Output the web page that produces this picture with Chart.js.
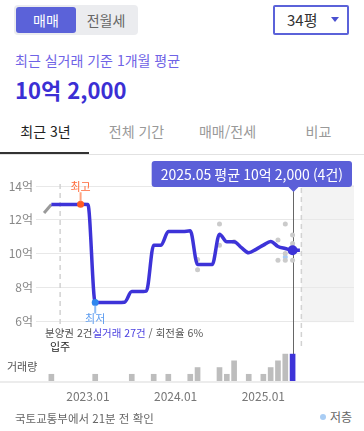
<!DOCTYPE html>
<html lang="ko">
<head>
<meta charset="utf-8">
<script src="https://cdn.jsdelivr.net/npm/chart.js@4.4.1/dist/chart.umd.min.js"></script>
<style>
  body { margin: 0; width: 364px; height: 431px; overflow: hidden; background: #fff; position: relative;
         font-family: "Noto Sans CJK KR", "Noto Sans", sans-serif; }
  .abs { position: absolute; white-space: nowrap; }
  #toggle { left: 14px; top: 5px; width: 124px; height: 30px; background: #ebecef; border-radius: 4px; }
  #toggle span { position: absolute; top: 2px; width: 60px; height: 26px; line-height: 26px; text-align: center; font-size: 14px; }
  #toggle .on { left: 2px; background: #5b62d9; color: #fff; border-radius: 3px; }
  #toggle .off { left: 62px; color: #666; }
  #size { left: 273px; top: 5px; width: 72px; height: 26px; border: 2px solid #5b62d9; border-radius: 2px; }
  #size .txt { position: absolute; left: 12px; top: 0; line-height: 26px; font-size: 15px; color: #333; }
  #size .arr { position: absolute; left: 56px; top: 10px; width: 0; height: 0;
               border-left: 4px solid transparent; border-right: 4px solid transparent; border-top: 5px solid #4a50d0; }
  #sub { left: 15px; top: 51px; font-size: 14px; line-height: 18px; color: #6f63e6; }
  #price { left: 15px; top: 76px; font-size: 22px; line-height: 26px; font-weight: bold; color: #3b2fd4; }
  #tabs { left: 0; top: 117px; width: 364px; height: 36px; display: flex; }
  #tabs div { flex: 1; text-align: center; line-height: 28px; font-size: 14px; color: #999; }
  #tabs div.on { color: #222; }
  #tabline { left: 0; top: 152px; width: 89px; height: 2px; background: #333; }
  #grayline { left: 0; top: 154px; width: 364px; height: 1px; background: #e2e2e2; }
  #chart { position: absolute; left: 0; top: 156px; }
  #stats { left: 45px; top: 325px; font-size: 10.5px; line-height: 16px; color: #555; }
  #stats b { font-weight: normal; color: #4a3fe0; }
  #movein { left: 48px; top: 338px; width: 24px; text-align: center; font-size: 11px; line-height: 16px; color: #222; }
  #vol { left: 7px; top: 358px; font-size: 11px; line-height: 16px; color: #555; }
  #src { left: 15px; top: 410px; font-size: 11.5px; line-height: 16px; color: #666; }
  #lgdot { left: 320px; top: 414px; width: 6px; height: 6px; border-radius: 3px; background: #a9cdf4; }
  #lgtxt { left: 330px; top: 409px; font-size: 12px; line-height: 16px; color: #666; }
</style>
</head>
<body>
<div id="toggle" class="abs"><span class="on">매매</span><span class="off">전월세</span></div>
<div id="size" class="abs"><span class="txt">34평</span><span class="arr"></span></div>
<div id="sub" class="abs">최근 실거래 기준 1개월 평균</div>
<div id="price" class="abs"></div>
<div id="tabs" class="abs"><div class="on">최근 3년</div><div>전체 기간</div><div>매매/전세</div><div>비교</div></div>
<div id="tabline" class="abs"></div>
<div id="grayline" class="abs"></div>
<canvas id="chart" width="364" height="249"></canvas>
<div id="stats" class="abs">분양권 2건<b>실거래 27건</b> / 회전율 6%</div>
<div id="movein" class="abs">입주</div>
<div id="vol" class="abs">거래량</div>
<div id="src" class="abs">국토교통부에서 21분 전 확인</div>
<div id="lgdot" class="abs"></div>
<div id="lgtxt" class="abs">저층</div>

<script>
// axis months: index 0 = 2022.06
var startYear = 2022, startMonth = 6;
var xTickLabels = ["2023.01", "2024.01", "2025.01"];
var yTicks = [6, 8, 10, 12, 14];

// monthly average price (억)
var avgMonths = ["2022.08", "2022.09", "2022.10", "2022.11", "2022.12", "2023.01", "2023.02", "2023.03",
  "2023.04", "2023.05", "2023.06", "2023.07", "2023.08", "2023.09", "2023.10", "2023.11", "2023.12",
  "2024.01", "2024.02", "2024.03", "2024.04", "2024.05", "2024.06", "2024.07", "2024.08", "2024.09",
  "2024.10", "2024.11", "2024.12", "2025.01", "2025.02", "2025.03", "2025.04", "2025.05", "2025.06"];
var avgValues = [12.9, 12.9, 12.9, 12.9, 12.92, 12.9, 7.1, 7.1,
  7.1, 7.1, 7.12, 7.75, 7.75, 7.78, 10.5, 10.5, 11.3,
  11.3, 11.3, 11.35, 9.35, 9.35, 9.35, 11.15, 10.7, 10.7,
  10.35, 10.05, 10.25, 10.5, 10.72, 10.42, 10.3, 10.2, 10.2];

// 분양권 (pre-sale) segment
var presaleMonths = ["2022.07", "2022.08"];
var presaleValues = [12.4, 12.9];

// individual deals
var dealMonths = ["2024.04", "2024.04", "2024.07", "2024.07", "2024.09", "2025.03", "2025.03",
  "2025.04", "2025.04", "2025.04", "2025.05", "2025.05", "2025.05"];
var dealValues = [9.65, 9.05, 11.75, 10.5, 10.7, 10.8, 9.6,
  11.75, 10.0, 9.6, 11.1, 10.6, 9.6];
var lowFloorMonths = ["2025.04"];
var lowFloorValues = [9.8];

// trade volume (건)
var volMonths = ["2022.08", "2023.02", "2023.07", "2023.10", "2023.12", "2024.03", "2024.04", "2024.07",
  "2024.08", "2024.09", "2024.11", "2025.01", "2025.02", "2025.03", "2025.04", "2025.05"];
var volCounts = [1, 1, 1, 1, 1, 1, 2, 2, 1, 3, 1, 1, 2, 3, 4, 4];

var curMonth = "2025.05";
var moveInMonth = "2022.09";
var todayMonth = "2025.06";

var FONT = '"Noto Sans CJK KR", "Noto Sans", sans-serif';
var BLUE = "#3d33d8";

function monthIndex(s) {
  var p = s.split(".");
  return (parseInt(p[0]) - startYear) * 12 + parseInt(p[1]) - startMonth;
}
function monthLabel(i) {
  var m = startMonth - 1 + i;
  var y = startYear + Math.floor(m / 12);
  var mm = (m % 12) + 1;
  return y + "." + (mm < 10 ? "0" + mm : mm);
}
function fmtPrice(v) {
  var eok = Math.floor(v);
  var man = Math.round((v - eok) * 10000);
  return man ? eok + "억 " + man.toLocaleString("en-US") : eok + "억";
}
function pts(months, values) {
  return months.map(function (m, i) { return { x: monthIndex(m), y: values[i] }; });
}

var curIdx = avgMonths.indexOf(curMonth);
var curValue = avgValues[curIdx];
var curCount = volCounts[volMonths.indexOf(curMonth)];
var hiIdx = avgValues.indexOf(Math.max.apply(null, avgValues));
var loIdx = avgValues.indexOf(Math.min.apply(null, avgValues));

document.getElementById("price").textContent = fmtPrice(curValue);

var overlay = {
  id: "overlay",
  beforeDraw: function (chart) {
    var c = chart.ctx, a = chart.chartArea, x = chart.scales.x, y = chart.scales.y;
    var tx = x.getPixelForValue(monthIndex(todayMonth) + 0.2);
    c.save();
    c.fillStyle = "#f3f3f3";
    c.fillRect(tx, y.getPixelForValue(14) - 1, a.right - tx, y.getPixelForValue(6) - y.getPixelForValue(14) + 2);
    c.restore();
  },
  beforeDatasetsDraw: function (chart) {
    var c = chart.ctx, a = chart.chartArea, x = chart.scales.x;
    c.save();
    // baseline under the volume bars
    c.fillStyle = "#ececec";
    c.fillRect(0, a.bottom, chart.width, 2);
    // dashed lines: move-in and today
    c.strokeStyle = "#d2d2d2";
    c.lineWidth = 1.5;
    c.setLineDash([5, 4]);
    var mx = x.getPixelForValue(monthIndex(moveInMonth) + 0.2);
    c.beginPath(); c.moveTo(mx, 28); c.lineTo(mx, 172); c.stroke();
    var tx = x.getPixelForValue(monthIndex(todayMonth) + 0.2);
    c.beginPath(); c.moveTo(tx, 32); c.lineTo(tx, 194); c.stroke();
    // cursor
    c.setLineDash([]);
    c.strokeStyle = "#666";
    c.lineWidth = 1;
    var cx = Math.round(x.getPixelForValue(monthIndex(curMonth))) + 0.5;
    c.beginPath(); c.moveTo(cx, 34); c.lineTo(cx, a.bottom); c.stroke();
    c.restore();
  },
  afterDatasetsDraw: function (chart) {
    var c = chart.ctx, x = chart.scales.x, y = chart.scales.y;
    c.save();
    c.font = "11px " + FONT;
    c.textAlign = "center";
    c.textBaseline = "middle";
    // 최고
    var hx = x.getPixelForValue(monthIndex(avgMonths[hiIdx])), hy = y.getPixelForValue(avgValues[hiIdx]);
    c.strokeStyle = "#ffa37f"; c.lineWidth = 2;
    c.beginPath(); c.moveTo(hx, hy - 3); c.lineTo(hx, hy - 12); c.stroke();
    c.fillStyle = "#ff6a3a";
    c.fillText("최고", hx, hy - 17);
    // 최저
    var lx = x.getPixelForValue(monthIndex(avgMonths[loIdx])), ly = y.getPixelForValue(avgValues[loIdx]);
    c.strokeStyle = "#8ebcf6";
    c.beginPath(); c.moveTo(lx, ly + 3); c.lineTo(lx, ly + 11); c.stroke();
    c.fillStyle = "#5c9cf0";
    c.fillText("최저", lx, ly + 16);
    c.restore();
  },
  afterDraw: function (chart) {
    var c = chart.ctx, x = chart.scales.x;
    var cx = Math.round(x.getPixelForValue(monthIndex(curMonth))) + 0.5;
    var text = curMonth + " 평균 " + fmtPrice(curValue) + " (" + curCount + "건)";
    c.save();
    c.font = "14px " + FONT;
    var w = c.measureText(text).width + 18, h = 26;
    var right = Math.min(cx + w / 2, 352);
    var left = right - w, top = 5;
    c.fillStyle = "#5b5fd8";
    c.beginPath();
    c.roundRect(left, top, w, h, 3);
    c.fill();
    c.beginPath();
    c.moveTo(cx - 5, top + h); c.lineTo(cx + 5, top + h); c.lineTo(cx, top + h + 5); c.closePath();
    c.fill();
    c.fillStyle = "#fff";
    c.textAlign = "center";
    c.textBaseline = "middle";
    c.fillText(text, left + w / 2, top + h / 2 + 1);
    c.restore();
  }
};

var ctx = document.getElementById("chart").getContext("2d");
var chart = new Chart(ctx, {
  data: {
    datasets: [
      {
        type: "line",
        data: pts(avgMonths, avgValues),
        borderColor: BLUE,
        borderWidth: 3.5,
        cubicInterpolationMode: "monotone",
        pointRadius: function (c) {
          if (c.dataIndex === curIdx) return 5;
          if (c.dataIndex === hiIdx || c.dataIndex === loIdx) return 3.5;
          return 0;
        },
        pointBackgroundColor: function (c) {
          if (c.dataIndex === hiIdx) return "#ff5a24";
          if (c.dataIndex === loIdx) return "#2f86ee";
          return BLUE;
        },
        pointBorderWidth: 0,
        clip: false,
        order: 1
      },
      {
        type: "line",
        data: pts(presaleMonths, presaleValues),
        borderColor: "#9a9a9a",
        borderWidth: 3,
        pointRadius: 0,
        order: 2
      },
      {
        type: "scatter",
        data: pts(dealMonths, dealValues),
        backgroundColor: "#cbcbcb",
        pointRadius: 2.5,
        pointBorderWidth: 0,
        order: 3
      },
      {
        type: "scatter",
        label: "저층",
        data: pts(lowFloorMonths, lowFloorValues),
        backgroundColor: "#a9cdf4",
        pointRadius: 2.5,
        pointBorderWidth: 0,
        order: 3
      },
      {
        type: "bar",
        yAxisID: "y2",
        data: pts(volMonths, volCounts),
        backgroundColor: volMonths.map(function (m) { return m === curMonth ? BLUE : "#bdbdbd"; }),
        barThickness: 5,
        order: 4
      }
    ]
  },
  options: {
    responsive: false,
    animation: false,
    layout: { padding: { top: 30, right: 10, left: 0, bottom: 0 } },
    plugins: { legend: { display: false }, tooltip: { enabled: false } },
    scales: {
      x: {
        type: "linear",
        min: -0.1,
        max: 43.4,
        offset: false,
        grid: { display: false, drawTicks: false, offset: false },
        border: { display: false },
        afterBuildTicks: function (s) {
          s.ticks = xTickLabels.map(function (l) { return { value: monthIndex(l) }; });
        },
        ticks: {
          callback: function (v) { return monthLabel(v); },
          color: "#777",
          font: { size: 12, family: FONT },
          padding: 8,
          maxRotation: 0,
          autoSkip: false
        },
        afterFit: function (s) { s.height = 24; }
      },
      y: {
        min: 2.46,
        max: 14,
        afterBuildTicks: function (s) {
          s.ticks = yTicks.map(function (v) { return { value: v }; });
        },
        ticks: {
          callback: function (v) { return v + "억"; },
          color: "#888",
          font: { size: 12, family: FONT },
          padding: 3
        },
        grid: { color: "#e8e8e8", drawTicks: false },
        border: { display: false },
        afterFit: function (s) { s.width = 36; }
      },
      y2: { display: false, min: 0, max: 29 }
    }
  },
  plugins: [overlay]
});
</script>
</body>
</html>
